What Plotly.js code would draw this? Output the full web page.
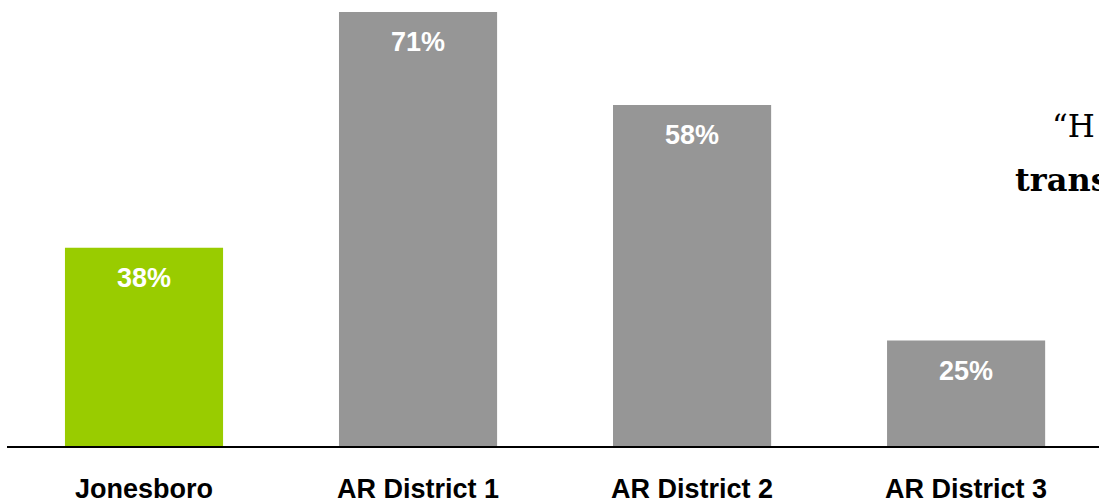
<!DOCTYPE html>
<html>
<head>
<meta charset="utf-8">
<script src="https://cdn.plot.ly/plotly-3.0.1.min.js"></script>
<style>
  html, body { margin: 0; padding: 0; background: #ffffff; }
  #chart { width: 1099px; height: 504px; }
</style>
</head>
<body>
<div id="chart"></div>
<script>
// Share of respondents by area
const categories = ['Jonesboro', 'AR District 1', 'AR District 2', 'AR District 3'];
const values = [38, 71, 58, 25];
const barColors = ['#99cc00', '#969696', '#969696', '#969696'];

// Partial quote text running in from the right-hand side
const quoteLines = ['\u201CH', 'trans'];

const labelFont = { family: 'Arial, Liberation Sans, sans-serif', size: 27, weight: 'bold' };

const valueLabels = categories.map((c, i) => ({
  x: c,
  y: values[i],
  xref: 'x',
  yref: 'y',
  text: values[i] + '%',
  showarrow: false,
  yanchor: 'middle',
  yshift: -30,
  font: Object.assign({}, labelFont, { color: '#ffffff' })
}));

const quoteNotes = [
  {
    xref: 'paper', yref: 'paper',
    x: (1050 - 7) / 1092, y: 1 - 126 / 446,
    xanchor: 'left', yanchor: 'middle',
    text: quoteLines[0],
    showarrow: false,
    font: { family: 'DejaVu Serif, serif', size: 31, color: '#000000' }
  },
  {
    xref: 'paper', yref: 'paper',
    x: (1013 - 7) / 1092, y: 1 - 180 / 446,
    xanchor: 'left', yanchor: 'middle',
    text: quoteLines[1],
    showarrow: false,
    font: { family: 'DejaVu Serif, serif', size: 32, color: '#000000', weight: 'bold' }
  }
];

const trace = {
  type: 'bar',
  x: categories,
  y: values,
  marker: { color: barColors, line: { width: 0 } },
  hoverinfo: 'none'
};

const layout = {
  width: 1099,
  height: 504,
  margin: { l: 7, r: 0, t: 0, b: 58, pad: 0 },
  paper_bgcolor: '#ffffff',
  plot_bgcolor: '#ffffff',
  showlegend: false,
  bargap: 0.423,
  xaxis: {
    type: 'category',
    range: [-0.5, 3.485],
    showline: true,
    linecolor: '#000000',
    linewidth: 2,
    ticks: '',
    showgrid: false,
    zeroline: false,
    ticklabelstandoff: 18,
    tickfont: Object.assign({}, labelFont, { color: '#000000' })
  },
  yaxis: {
    range: [10.23, 72.69],
    visible: false,
    showgrid: false,
    zeroline: false
  },
  annotations: valueLabels.concat(quoteNotes)
};

Plotly.newPlot('chart', [trace], layout, { staticPlot: true, displayModeBar: false });
</script>
</body>
</html>
